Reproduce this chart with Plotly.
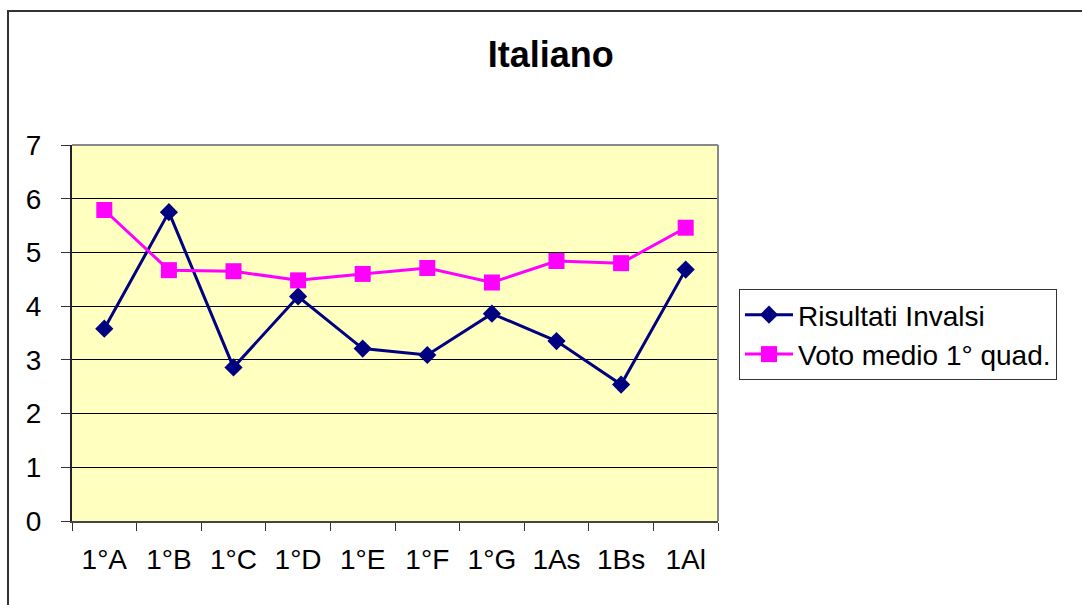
import plotly.graph_objects as go

# Classi e valori medi
classi = ["1°A", "1°B", "1°C", "1°D", "1°E", "1°F", "1°G", "1As", "1Bs", "1Al"]
risultati_invalsi = [3.58, 5.75, 2.86, 4.18, 3.21, 3.09, 3.86, 3.35, 2.54, 4.68]
voto_medio = [5.79, 4.67, 4.65, 4.48, 4.60, 4.71, 4.44, 4.84, 4.80, 5.46]
y_ticks = [0, 1, 2, 3, 4, 5, 6, 7]

FONT = "Liberation Sans, Arial, sans-serif"

fig = go.Figure()
fig.add_trace(go.Scatter(
    x=classi, y=risultati_invalsi, name="Risultati Invalsi",
    mode="lines+markers",
    line=dict(color="#000080", width=3),
    marker=dict(symbol="diamond", size=14, color="#000080"),
))
fig.add_trace(go.Scatter(
    x=classi, y=voto_medio, name="Voto medio 1° quad.",
    mode="lines+markers",
    line=dict(color="#FF00FF", width=3),
    marker=dict(symbol="square", size=16, color="#FF00FF"),
))

fig.update_layout(
    width=1082, height=605,
    margin=dict(l=72, r=364, t=145, b=84),
    paper_bgcolor="white",
    plot_bgcolor="#FFFFC0",
    font=dict(family=FONT, color="black"),
    title=dict(
        text="<b>Italiano</b>", font=dict(family=FONT, size=36, color="black"),
        xref="container", x=0.509, xanchor="center",
        yref="container", y=1 - 54 / 605, yanchor="middle",
    ),
    showlegend=True,
    legend=dict(
        x=(739 - 72) / 646, xanchor="left",
        y=(521 - 289) / 376, yanchor="top",
        bgcolor="white", bordercolor="#333333", borderwidth=1,
        font=dict(family=FONT, size=28, color="black"),
        itemwidth=48, tracegroupgap=0,
    ),
    xaxis=dict(
        type="category", categoryorder="array", categoryarray=classi,
        range=[-0.5, len(classi) - 0.5],
        showgrid=False, showline=True, linecolor="#444444", linewidth=2,
        ticks="outside", tickson="boundaries", ticklen=8, tickcolor="#333333",
        tickfont=dict(family=FONT, size=28, color="black"),
        ticklabelstandoff=12,
        zeroline=False, fixedrange=True,
    ),
    yaxis=dict(
        range=[0, 7], tickvals=y_ticks,
        showgrid=True, gridcolor="black", gridwidth=1,
        showline=True, linecolor="#222222", linewidth=2,
        ticks="outside", ticklen=9, tickcolor="#333333",
        tickfont=dict(family=FONT, size=28, color="black"),
        ticklabelstandoff=14,
        zeroline=False, fixedrange=True,
    ),
    shapes=[
        # grey frame of the plot area (top and right edges)
        dict(type="line", xref="paper", yref="paper", x0=0, x1=1, y0=1, y1=1,
             line=dict(color="#888888", width=2), layer="above"),
        dict(type="line", xref="paper", yref="paper", x0=1, x1=1, y0=0, y1=1,
             line=dict(color="#888888", width=2), layer="above"),
        # outer chart frame
        dict(type="rect", xref="paper", yref="paper",
             x0=(8 - 72) / 646, x1=(1100 - 72) / 646,
             y0=(521 - 620) / 376, y1=(521 - 11) / 376,
             line=dict(color="#333333", width=2), fillcolor="rgba(0,0,0,0)",
             layer="above"),
    ],
)

fig.write_html("out.html")
